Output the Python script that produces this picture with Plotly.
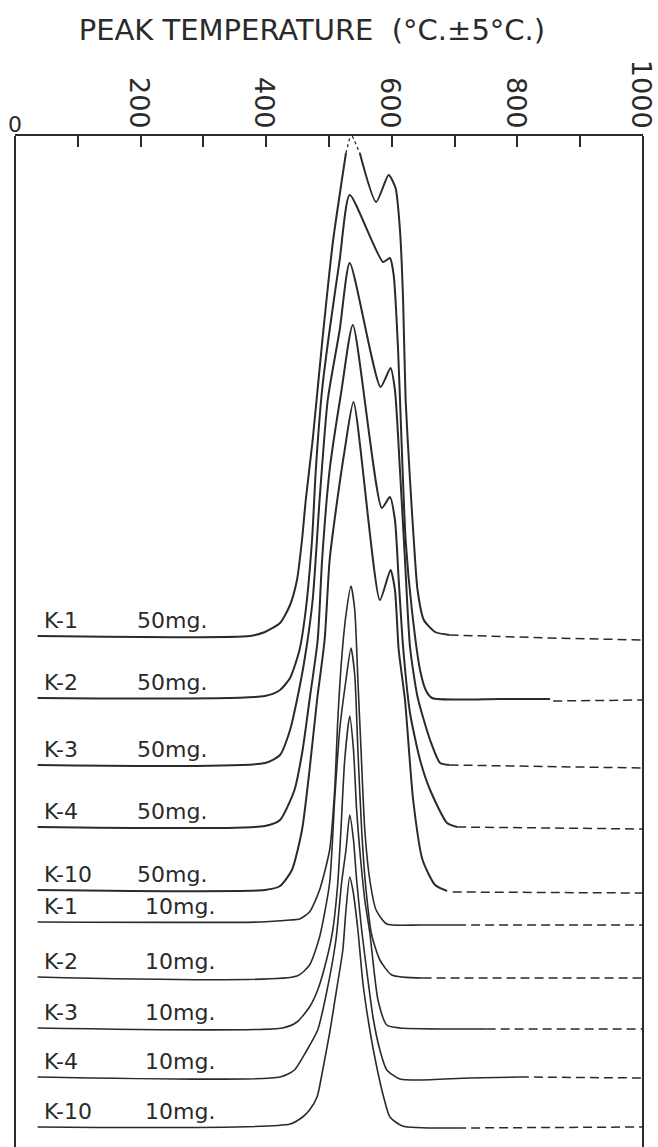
import plotly.graph_objects as go

# ---------------- data ----------------
tick_vals = [0, 100, 200, 300, 400, 500, 600, 700, 800, 900, 1000]
tick_text = ["", "", "200", "", "400", "", "600", "", "800", "", "1000"]

samples = ["K-1", "K-2", "K-3", "K-4", "K-10", "K-1", "K-2", "K-3", "K-4", "K-10"]
masses = ["50mg.", "50mg.", "50mg.", "50mg.", "50mg.", "10mg.", "10mg.", "10mg.", "10mg.", "10mg."]
baselines = [511, 449, 382, 320, 257, 225, 170, 119, 70, 20]

# K-1 50 mg (apex drawn dotted)
k1_50_T = [36, 374, 398, 422, 438, 449, 457, 463, 474, 489, 506, 527, None,
           549, 575, 595, 606, 613, 618, 622, 629, 635, 641, 651, 669, 692]
k1_50_d = [0, 0, 4, 13, 31, 56, 96, 136, 196, 293, 393, 483, None,
           483, 434, 461, 448, 406, 336, 236, 156, 96, 46, 16, 4, 1]
k1_50_top_T = [527, 535, 549]
k1_50_top_d = [483, 503, 483]
k1_50_tail_T = [692, 852, 1000]
k1_50_tail_d = [1, -2, -4]

k2_50_T = [36, 398, 422, 438, 453, 463, 473, 479, 489, 501, 517, 533, 586, 597,
           603, 610, 616, 622, 632, 645, 654, 664, 772, 852]
k2_50_d = [0, 2, 8, 20, 48, 88, 158, 228, 308, 368, 438, 503, 436, 440,
           423, 348, 248, 158, 88, 28, 8, 0, -1, -1]
k2_50_tail_T = [857, 1000]
k2_50_tail_d = [-3, -2]

k3_50_T = [36, 398, 422, 438, 449, 461, 474, 485, 498, 517, 533, 582, 598, 605,
           613, 621, 629, 641, 661, 677, 692]
k3_50_d = [0, 2, 10, 35, 65, 105, 165, 265, 365, 435, 502, 378, 397, 375,
           295, 205, 118, 68, 25, 2, 0]
k3_50_tail_T = [692, 1000]
k3_50_tail_d = [0, -3]

k4_50_T = [36, 398, 422, 445, 458, 469, 482, 489, 501, 520, 538, 584, 597, 605,
           611, 618, 629, 645, 661, 688, 704]
k4_50_d = [0, 1, 7, 37, 77, 127, 187, 267, 357, 437, 502, 319, 330, 307,
           247, 180, 114, 67, 37, 4, 0]
k4_50_tail_T = [704, 1000]
k4_50_tail_d = [0, -2]

k10_50_T = [36, 398, 422, 441, 457, 469, 481, 493, 501, 511, 525, 539, 581, 598,
            605, 611, 621, 634, 649, 669, 688]
k10_50_d = [0, 0, 4, 20, 60, 120, 190, 250, 330, 380, 440, 488, 290, 320,
            300, 240, 190, 90, 30, 5, -1]
k10_50_tail_T = [697, 1000]
k10_50_tail_d = [-2, -3]

k1_10_T = [36, 390, 438, 453, 469, 485, 501, 509, 514, 520, 527, 535, 541, 546,
           551, 557, 565, 575, 592, 645, 704]
k1_10_d = [0, 0, 2, 3, 10, 32, 72, 132, 202, 262, 307, 336, 312, 242,
           172, 92, 42, 12, -2, -3, -3]
k1_10_tail_T = [704, 1000]
k1_10_tail_d = [-3, -3]

k2_10_T = [36, 449, 469, 485, 501, 509, 517, 527, 535, 541, 546, 552, 559, 568,
           581, 600, 649]
k2_10_d = [0, 1, 12, 40, 94, 177, 247, 297, 329, 302, 227, 147, 87, 42,
           17, 2, -1]
k2_10_tail_T = [649, 1000]
k2_10_tail_d = [-1, -1]

k3_10_T = [36, 426, 449, 469, 482, 496, 506, 514, 519, 525, 533, 539, 544, 549,
           557, 565, 578, 592, 613, 751]
k3_10_d = [0, 0, 6, 21, 38, 68, 98, 145, 198, 268, 312, 278, 218, 178,
           128, 95, 28, 3, 0, -1]
k3_10_tail_T = [751, 1000]
k3_10_tail_d = [-1, -1]

k4_10_T = [36, 422, 445, 465, 482, 496, 511, 520, 527, 533, 539, 544, 552, 562,
           570, 581, 592, 613, 645, 724, 804]
k4_10_d = [0, 0, 7, 27, 47, 84, 137, 194, 227, 262, 237, 197, 147, 97,
           60, 27, 7, -2, -3, -1, 0]
k4_10_tail_T = [804, 1000]
k4_10_tail_d = [0, -1]

k10_10_T = [36, 438, 458, 469, 481, 490, 501, 512, 522, 527, 533, 538, 546, 554,
            565, 576, 587, 597, 617, 704]
k10_10_d = [0, 3, 10, 17, 30, 57, 94, 137, 177, 217, 250, 237, 197, 144,
            97, 60, 30, 10, 1, -1]
k10_10_tail_T = [704, 1000]
k10_10_tail_d = [-1, 0]

solid_T = [k1_50_T, k2_50_T, k3_50_T, k4_50_T, k10_50_T,
           k1_10_T, k2_10_T, k3_10_T, k4_10_T, k10_10_T]
solid_d = [k1_50_d, k2_50_d, k3_50_d, k4_50_d, k10_50_d,
           k1_10_d, k2_10_d, k3_10_d, k4_10_d, k10_10_d]
tail_T = [k1_50_tail_T, k2_50_tail_T, k3_50_tail_T, k4_50_tail_T, k10_50_tail_T,
          k1_10_tail_T, k2_10_tail_T, k3_10_tail_T, k4_10_tail_T, k10_10_tail_T]
tail_d = [k1_50_tail_d, k2_50_tail_d, k3_50_tail_d, k4_50_tail_d, k10_50_tail_d,
          k1_10_tail_d, k2_10_tail_d, k3_10_tail_d, k4_10_tail_d, k10_10_tail_d]

# ---------------- figure ----------------
INK = "#2a2a2a"
FONT = "DejaVu Sans"


def shift(vals, base):
    return [None if v is None else v + base for v in vals]


fig = go.Figure()
for i in range(len(samples)):
    lw = 2.0 if masses[i].startswith("50") else 1.6
    fig.add_trace(go.Scatter(
        x=solid_T[i], y=shift(solid_d[i], baselines[i]), mode="lines",
        line=dict(color=INK, width=lw, shape="spline", smoothing=0.6),
        connectgaps=False, hoverinfo="skip", showlegend=False))
    fig.add_trace(go.Scatter(
        x=tail_T[i], y=shift(tail_d[i], baselines[i]), mode="lines",
        line=dict(color=INK, width=1.5, dash="9px,5px"),
        hoverinfo="skip", showlegend=False))
    fig.add_annotation(x=43, y=baselines[i] + 16, xref="x", yref="y",
                       text=samples[i], showarrow=False, xanchor="left",
                       yanchor="middle",
                       font=dict(family=FONT, size=22, color=INK))
    fig.add_annotation(x=191 if masses[i].startswith("50") else 204,
                       y=baselines[i] + 16, xref="x", yref="y",
                       text=masses[i], showarrow=False, xanchor="left",
                       yanchor="middle",
                       font=dict(family=FONT, size=22, color=INK))

fig.add_trace(go.Scatter(
    x=k1_50_top_T, y=shift(k1_50_top_d, baselines[0]), mode="lines",
    line=dict(color=INK, width=1.3, dash="dot"),
    hoverinfo="skip", showlegend=False))

fig.add_annotation(x=0, y=1.011, xref="x", yref="paper", text="0",
                   showarrow=False, xanchor="center", yanchor="middle",
                   font=dict(family=FONT, size=22, color=INK))

# left and right frame lines of the plot box
for xe in (0, 1):
    fig.add_shape(type="line", xref="paper", yref="paper", x0=xe, x1=xe,
                  y0=0, y1=1, line=dict(color=INK, width=2))

fig.update_layout(
    width=658, height=1147,
    margin=dict(l=15, r=15, t=136, b=0, autoexpand=False),
    paper_bgcolor="white", plot_bgcolor="white",
    title=dict(text="PEAK TEMPERATURE  (°C.±5°C.)", x=0.474, xanchor="center",
               y=1 - 30 / 1147, yanchor="middle",
               font=dict(family=FONT, size=29, color=INK)),
    xaxis=dict(range=[0, 1000], side="top", tickmode="array",
               tickvals=tick_vals, ticktext=tick_text, tickangle=90,
               ticks="inside", ticklen=11, tickwidth=2, tickcolor=INK,
               showline=True, linecolor=INK, linewidth=2, mirror=False,
               showgrid=False, zeroline=False, ticklabelstandoff=-4,
               ticklabelshift=-2, ticklabeloverflow="allow",
               tickfont=dict(family=FONT, size=27, color=INK)),
    yaxis=dict(range=[0, 1011], showline=False, showticklabels=False,
               ticks="", showgrid=False, zeroline=False),
)

fig.write_html(
    "out.html",
    config={"displayModeBar": False, "staticPlot": True},
    post_script="document.body.style.margin='0';"
                "document.body.style.overflow='hidden';",
)
